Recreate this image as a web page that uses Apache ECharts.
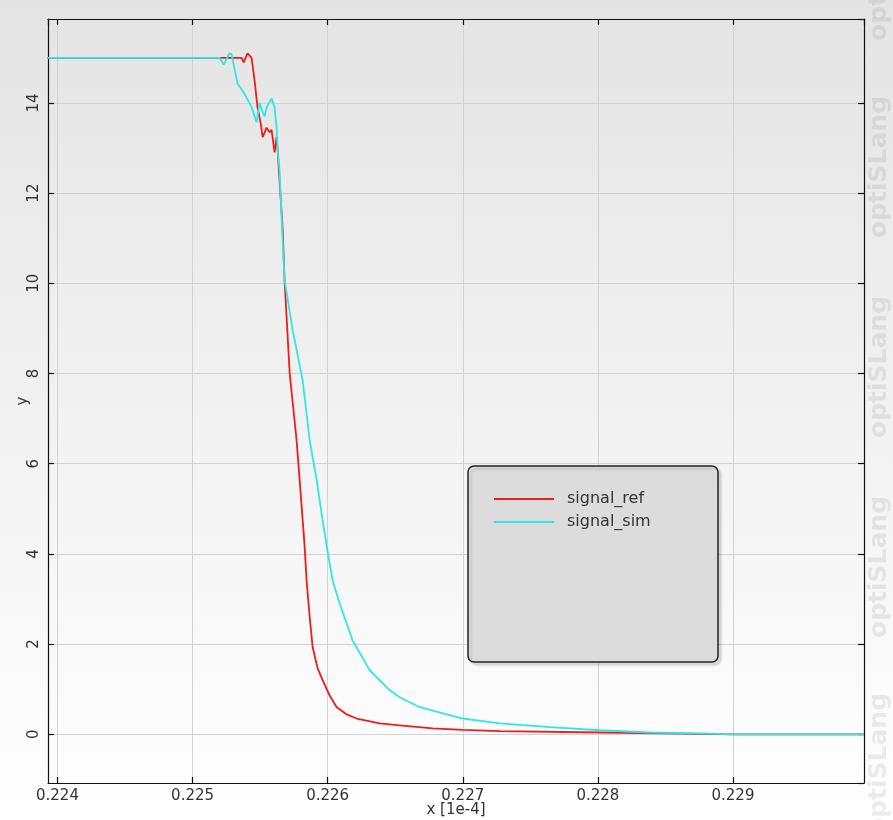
<!DOCTYPE html>
<html>
<head>
<meta charset="utf-8">
<script src="https://cdn.jsdelivr.net/npm/echarts@6/dist/echarts.min.js"></script>
<style>html,body{margin:0;padding:0;}#c{width:893px;height:820px;}</style>
</head>
<body>
<div id="c"></div>
<script>
const seriesNames = ['signal_ref', 'signal_sim'];
const refX = [0.223926,0.225148,0.225363,0.225378,0.225407,0.225437,0.225459,0.225481,0.225504,0.225519,0.225548,0.225570,0.225585,0.225607,0.225622,0.225630,0.225637,0.225667,0.225681,0.225719,0.225770,0.225793,0.225830,0.225844,0.225867,0.225889,0.225926,0.225963,0.226015,0.226067,0.226141,0.226215,0.226385,0.226533,0.226778,0.227000,0.227274,0.228015,0.228511,0.229000,0.229970];
const refY = [15.0,15.0,15.0,14.9,15.1,15.0,14.5,13.9,13.55,13.24,13.45,13.35,13.4,12.9,13.24,12.95,12.6,11.2,10.07,8.0,6.52,5.63,4.15,3.41,2.6,1.93,1.46,1.2,0.86,0.6,0.44,0.35,0.24,0.2,0.13,0.1,0.07,0.04,0.02,0.0,0.0];
const simX = [0.223926,0.225200,0.225230,0.225274,0.225289,0.225333,0.225385,0.225437,0.225474,0.225496,0.225519,0.225533,0.225548,0.225585,0.225607,0.225622,0.225630,0.225644,0.225667,0.225681,0.225741,0.225815,0.225867,0.225919,0.225963,0.226007,0.226037,0.226089,0.226185,0.226311,0.226459,0.226533,0.226681,0.227000,0.227274,0.227644,0.228015,0.228385,0.228756,0.229000,0.229970];
const simY = [15.0,15.0,14.85,15.1,15.08,14.43,14.2,13.9,13.57,14.0,13.8,13.7,13.9,14.1,13.9,13.45,12.95,12.5,10.95,10.07,8.96,7.85,6.52,5.63,4.74,3.92,3.41,2.9,2.08,1.42,0.98,0.82,0.6,0.35,0.24,0.16,0.09,0.04,0.02,0.0,0.0];
const xAxisName = 'x [1e-4]';
const yAxisName = 'y';
const watermark = 'optiSLang';

const xMin = 0.22393, xMax = 0.22997;
const yMin = -1.08, yMax = 15.86;

function zip(a, b) { return a.map((v, i) => [v, b[i]]); }

const chart = echarts.init(document.getElementById('c'));
const font = 'DejaVu Sans';
const wm = [-30, 167, 367, 567, 764].map(cy => ({
  type: 'text', x: 879, y: cy, rotation: Math.PI / 2, silent: true, z: 1,
  style: { text: watermark, font: 'bold 25px "DejaVu Sans"', fill: 'rgba(0,0,0,0.075)', align: 'center', verticalAlign: 'middle' }
}));
const baseAxis = {
  axisLine: { show: true, onZero: false, lineStyle: { color: '#111', width: 1.2 } },
  axisTick: { show: true, inside: true, length: 6, lineStyle: { color: '#111', width: 1.2 } },
};
chart.setOption({
  backgroundColor: new echarts.graphic.LinearGradient(0, 0, 0, 1, [
    { offset: 0, color: '#e4e4e4' }, { offset: 1, color: '#ffffff' }
  ]),
  animation: false,
  grid: { left: 48, top: 19, right: 29, bottom: 37, containLabel: false, outerBoundsMode: 'none' },
  xAxis: [
    Object.assign({}, baseAxis, {
      type: 'value', min: xMin, max: xMax, splitNumber: 6, position: 'bottom',
      name: xAxisName, nameLocation: 'middle', nameGap: 20, nameMoveOverlap: false,
      nameTextStyle: { fontFamily: font, fontSize: 15, color: '#333' },
      axisLabel: { showMinLabel: false, showMaxLabel: false, margin: 6, fontFamily: font, fontSize: 15, color: '#333' },
      splitLine: { show: true, lineStyle: { color: '#d2d2d2', width: 1 } }
    }),
    Object.assign({}, baseAxis, {
      type: 'value', min: xMin, max: xMax, splitNumber: 6, position: 'top',
      axisLabel: { show: false }, splitLine: { show: false }
    })
  ],
  yAxis: [
    Object.assign({}, baseAxis, {
      type: 'value', min: yMin, max: yMax, splitNumber: 8, position: 'left',
      name: yAxisName, nameLocation: 'middle', nameGap: 17, nameRotate: 90, nameMoveOverlap: false,
      nameTextStyle: { fontFamily: font, fontSize: 15, color: '#333' },
      axisLabel: { showMinLabel: false, showMaxLabel: false, rotate: 90, margin: 6, fontFamily: font, fontSize: 15, color: '#333' },
      splitLine: { show: true, lineStyle: { color: '#d2d2d2', width: 1 } }
    }),
    Object.assign({}, baseAxis, {
      type: 'value', min: yMin, max: yMax, splitNumber: 8, position: 'right',
      axisLabel: { show: false }, splitLine: { show: false }
    })
  ],
  legend: {
    left: 489, top: 486, orient: 'vertical', itemWidth: 60, itemHeight: 2, itemGap: 7, z: 20,
    icon: 'rect',
    textStyle: { fontFamily: font, fontSize: 16, color: '#333', padding: [0, 0, 0, 8] },
    data: seriesNames
  },
  graphic: wm.concat([{
    type: 'rect', z: 5, silent: true,
    shape: { x: 468, y: 466, width: 250, height: 196, r: 6 },
    style: { fill: '#dcdcdc', stroke: '#222', lineWidth: 1.5, shadowColor: 'rgba(0,0,0,0.12)', shadowOffsetX: 3, shadowOffsetY: 3, shadowBlur: 2 }
  }]),
  series: [
    { name: seriesNames[0], type: 'line', data: zip(refX, refY), symbol: 'none', smooth: false,
      lineStyle: { color: '#ee1c1c', width: 1.8 }, itemStyle: { color: '#ee1c1c' }, z: 2 },
    { name: seriesNames[1], type: 'line', data: zip(simX, simY), symbol: 'none', smooth: false,
      lineStyle: { color: '#2ee8e8', width: 1.8 }, itemStyle: { color: '#2ee8e8' }, z: 3 }
  ]
});
</script>
</body>
</html>
